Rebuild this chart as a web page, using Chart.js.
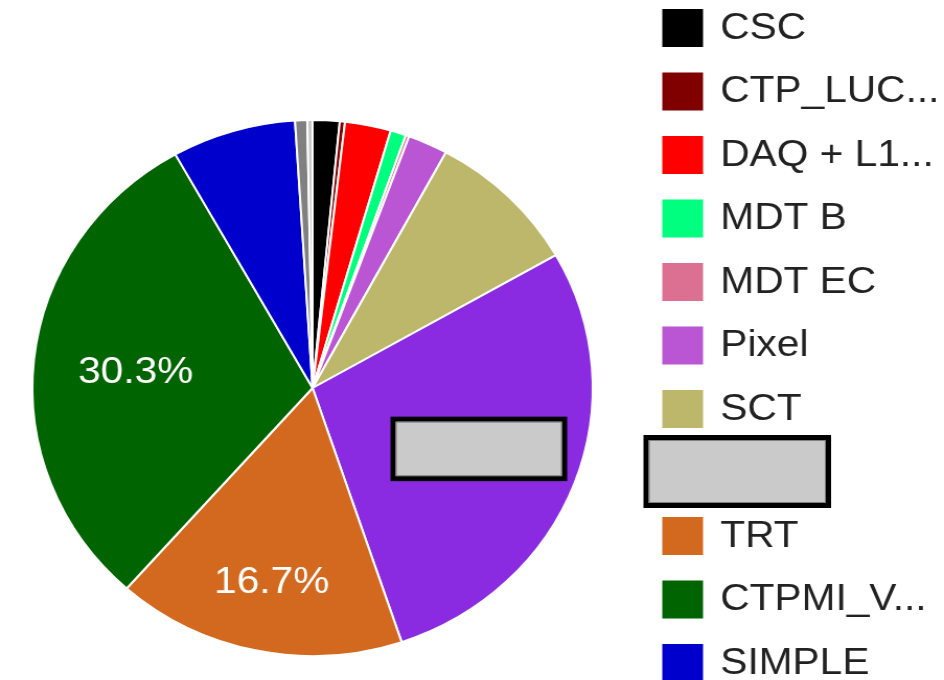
<!DOCTYPE html>
<html>
<head>
<meta charset="utf-8">
<title>Subsystem share</title>
<script src="https://cdn.jsdelivr.net/npm/chart.js@4/dist/chart.umd.min.js"></script>
<style>
  html, body { margin: 0; padding: 0; background: #fff; overflow: hidden; }
  #pie { display: block; }
</style>
</head>
<body>
<!-- drawn at 903px wide, shown slightly stretched to 944px -->
<canvas id="pie" width="903" height="680" style="width:944px;height:680px"></canvas>
<script>
// Share per subsystem (percent), in slice order clockwise from 12 o'clock
const categories = ['CSC', 'CTP_LUC...', 'DAQ + L1...', 'MDT B', 'MDT EC', 'Pixel', 'SCT',
                    'LAr', 'TRT', 'CTPMI_V...', 'SIMPLE', 'Tile', 'Other'];
const shares = [1.55, 0.3, 2.65, 0.9, 0.2, 2.3, 8.85, 28.1, 16.7, 30.3, 7.15, 0.7, 0.3];
const sliceColors = ['#000000', '#800000', '#ff0000', '#00ff7f', '#db7093', '#ba55d3', '#bdb76b',
                     '#8a2be2', '#d2691e', '#006400', '#0000cd', '#808080', '#c8c8c8'];
// this entry is blanked out in both the pie and the legend
const maskedCategory = 'LAr';

const FONT = '36px "Liberation Sans", Arial, sans-serif';
const TEXT_STRETCH = 1.08;

function drawText(ctx, text, x, y, color, align) {
    ctx.save();
    ctx.font = FONT;
    ctx.fillStyle = color;
    ctx.textAlign = align || 'left';
    ctx.textBaseline = 'alphabetic';
    ctx.translate(x, y);
    ctx.scale(TEXT_STRETCH, 1);
    ctx.fillText(text, 0, 0);
    ctx.restore();
}

function drawMask(ctx, x, y, w, h) {
    ctx.save();
    ctx.fillStyle = '#000';
    ctx.fillRect(x, y, w, h);
    ctx.fillStyle = '#cacaca';
    ctx.fillRect(x + 5, y + 5, w - 10, h - 10);
    ctx.strokeStyle = '#808080';
    ctx.lineWidth = 1;
    ctx.strokeRect(x + 5.5, y + 5.5, w - 11, h - 11);
    ctx.restore();
}

// percentage text inside the large slices
const sliceLabels = {
    id: 'sliceLabels',
    afterDatasetsDraw(chart) {
        const ctx = chart.ctx;
        const data = chart.data.datasets[0].data;
        const total = data.reduce((a, b) => a + b, 0);
        chart.getDatasetMeta(0).data.forEach((arc, i) => {
            const pct = data[i] / total * 100;
            if (pct < 10) return;
            const p = arc.getProps(['x', 'y', 'startAngle', 'endAngle', 'outerRadius'], true);
            const mid = (p.startAngle + p.endAngle) / 2;
            const f = categories[i] === 'TRT' ? 0.73 : 0.635;
            const lx = p.x + Math.cos(mid) * p.outerRadius * f;
            const ly = p.y + Math.sin(mid) * p.outerRadius * f;
            if (categories[i] === maskedCategory) {
                drawMask(ctx, lx - 84.5, ly - 32, 169, 64.5);
                return;
            }
            drawText(ctx, pct.toFixed(1) + '%', lx, ly + 13, '#ffffff', 'center');
        });
    }
};

// legend column on the right, runs off the bottom edge
const sideLegend = {
    id: 'sideLegend',
    afterDraw(chart) {
        const ctx = chart.ctx;
        const left = 633.5, top = 9, step = 63.5;
        chart.data.labels.forEach((label, i) => {
            const y = top + i * step;
            if (y > chart.height) return;
            if (label === maskedCategory) {
                drawMask(ctx, 615.5, y - 18.5, 179.5, 73);
                return;
            }
            ctx.fillStyle = sliceColors[i];
            ctx.fillRect(left, y, 39, 38);
            drawText(ctx, label, 689, y + 29.5, '#222222');
        });
    }
};

new Chart(document.getElementById('pie'), {
    type: 'pie',
    data: {
        labels: categories,
        datasets: [{
            data: shares,
            backgroundColor: sliceColors,
            borderColor: '#ffffff',
            borderWidth: 2
        }]
    },
    options: {
        responsive: false,
        animation: false,
        devicePixelRatio: 1,
        events: [],
        layout: { padding: { left: 30, right: 335, top: 119, bottom: 23 } },
        plugins: {
            legend: { display: false },
            tooltip: { enabled: false },
            title: { display: false }
        }
    },
    plugins: [sliceLabels, sideLegend]
});
</script>
</body>
</html>
